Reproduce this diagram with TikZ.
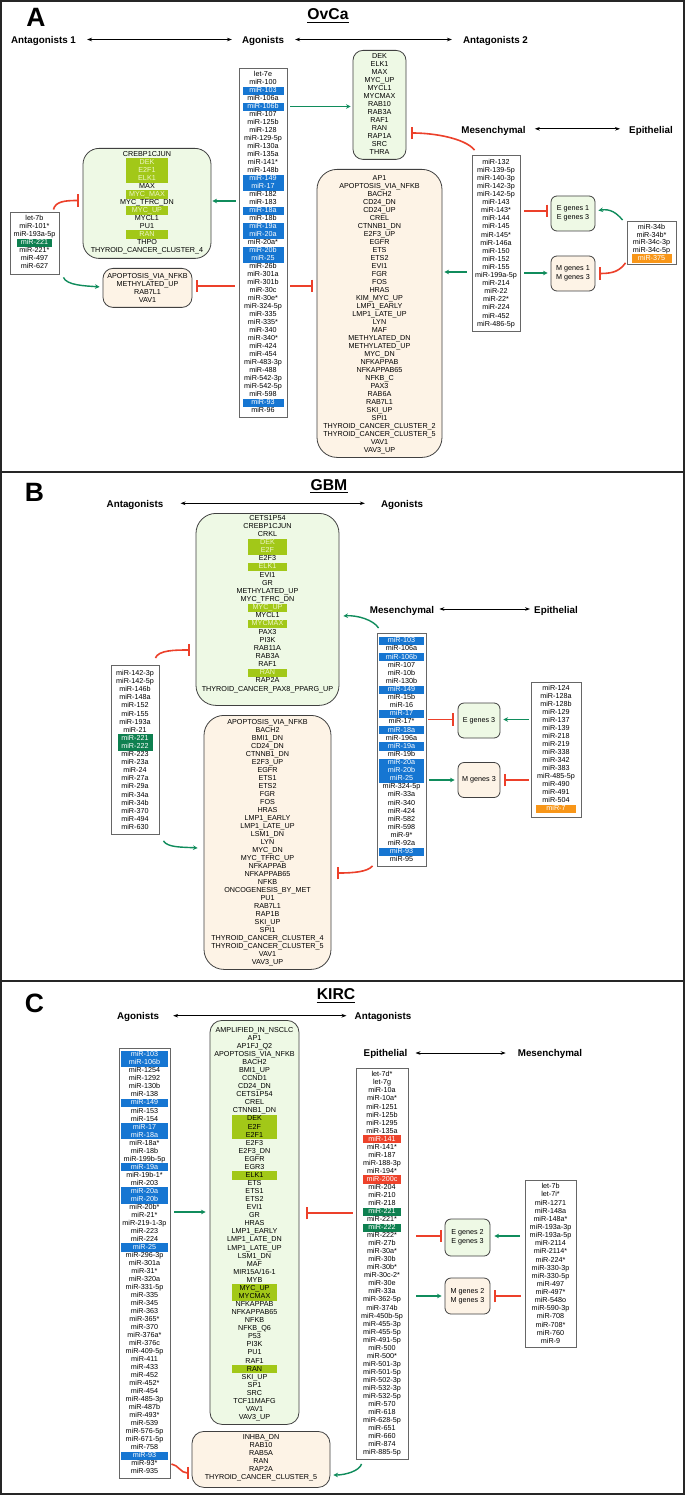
\documentclass[tikz,border=0pt]{standalone}
\usepackage{fontspec}
\setmainfont{Liberation Sans}
\usetikzlibrary{arrows.meta,calc}
\definecolor{mblue}{RGB}{22,118,210}
\definecolor{mdgreen}{RGB}{14,128,80}
\definecolor{morange}{RGB}{248,150,24}
\definecolor{mred}{RGB}{238,66,42}
\definecolor{mlime}{RGB}{162,200,24}
\definecolor{limetext}{RGB}{238,246,200}
\definecolor{gfill}{RGB}{238,249,229}
\definecolor{ofill}{RGB}{253,243,230}
\definecolor{agreen}{RGB}{16,140,92}
\definecolor{ared}{RGB}{236,64,42}
\tikzset{
 itm/.style={inner sep=0pt,outer sep=0pt,minimum height=8.3pt,text height=5.2pt,text depth=1.5pt,font=\fontsize{7.2}{8}\selectfont},
 hl/.style={hl#1},
 hln/.style={}, hlb/.style={fill=mblue,text=white}, hlg/.style={fill=mdgreen,text=white},
 hlo/.style={fill=morange,text=white}, hlr/.style={fill=mred,text=white},
 hll/.style={fill=mlime,text=limetext}, hlk/.style={fill=mlime,text=black},
 lbox/.style={draw=black!60,line width=0.9pt,fill=white,inner sep=0pt},
 gbox/.style={draw=black!75,line width=0.8pt,fill=gfill,inner sep=0pt,rounded corners=#1},
 gbox/.default=12pt,
 obox/.style={draw=black!75,line width=0.8pt,fill=ofill,inner sep=0pt,rounded corners=#1},
 obox/.default=12pt,
 egbox/.style={gbox=6pt,align=center,font=\fontsize{7.2}{8.8}\selectfont,minimum width=44pt,minimum height=35pt},
 embox/.style={obox=6pt,align=center,font=\fontsize{7.2}{8.8}\selectfont,minimum width=44pt,minimum height=35pt},
 lab/.style={font=\bfseries\fontsize{9.8}{11}\selectfont,inner sep=0pt,anchor=base},
 ttl/.style={font=\bfseries\fontsize{15.7}{18}\selectfont,inner sep=0pt,anchor=base},
 plet/.style={font=\bfseries\fontsize{26.5}{30}\selectfont,inner sep=0pt},
 garr/.style={draw=agreen,line width=1.4pt,-{Stealth[length=4.6pt,width=4.6pt]}},
 rinh/.style={draw=ared,line width=1.6pt,-{Bar[width=12.5pt]}},
 dbl/.style={line width=0.8pt,{Stealth[length=5pt,width=3.6pt]}-{Stealth[length=5pt,width=3.6pt]}},
 uline/.style={line width=1.2pt},
}
% #1 name #2 style #3 cx #4 ytop #5 height #6 width #7 yfirst #8 hl width #9 items
\newcommand\mylist[9]{%
  \node[#2, minimum width=#6, minimum height=#5, anchor=north] (#1) at (#3,#4) {};
  \foreach \sy/\tx [count=\ci] in {#9} {%
    \node[itm, minimum width=#8, hl/.expand once=\sy] (#1-\ci) at (#3, {#7+\isp*(\ci-1)}) {\tx};
  }%
}
\begin{document}
\begin{tikzpicture}[x=1pt,y=-1pt]
\useasboundingbox (0,0) rectangle (685,1495);
\fill[white] (0,0) rectangle (685,1495);
\draw[line width=1.5pt, black!85] (1,1) rectangle (684,1494);
\draw[line width=1.2pt, black!85] (1,472) -- (684,472);
\draw[line width=1.2pt, black!85] (1,981) -- (684,981);

% ================= PANEL A =================
\node[plet] (pA) at (36,17.5) {A};
\node[ttl] (tA) at (328,20) {OvCa};
\draw[uline] ($(tA.base west)+(0,2.7)$) -- ($(tA.base east)+(0,2.7)$);
\node[lab] (antA1) at (43.5,43.5) {Antagonists 1};
\node[lab] (agA) at (263,43.5) {Agonists};
\node[lab] (antA2) at (495.5,43.5) {Antagonists 2};
\draw[dbl] ($(antA1.base east)+(11,-4)$) -- ($(agA.base west)+(-10,-4)$);
\draw[dbl] ($(agA.base east)+(11,-4)$) -- ($(antA2.base west)+(-11,-4)$);
\node[lab] (mesAl) at (493.5,133.3) {Mesenchymal};
\node[lab] (epiAl) at (651,133.3) {Epithelial};
\draw[dbl] ($(mesAl.base east)+(9,-4.5)$) -- ($(epiAl.base west)+(-9,-4.5)$);

\def\isp{8}
\mylist{crebA}{gbox=16pt}{147}{148}{110}{128}{154.5}{42}{n/CREBP1CJUN, l/DEK, l/E2F1, l/ELK1, n/MAX, l/MYC\_MAX, n/MYC\_TFRC\_DN, l/MYC\_UP, n/MYCL1, n/PU1, l/RAN, n/THPO, n/THYROID\_CANCER\_CLUSTER\_4}
\mylist{let7bA}{lbox}{34.5}{212}{62}{49}{219}{35}{n/let-7b, n/miR-101*, n/miR-193a-5p, g/miR-221, n/miR-221*, n/miR-497, n/miR-627}
\mylist{apoA}{obox=10pt}{147.5}{268}{39}{89}{276.7}{0}{n/APOPTOSIS\_VIA\_NFKB, n/METHYLATED\_UP, n/RAB7L1, n/VAV1}
\mylist{agoA}{lbox}{263}{68}{349}{48}{75}{41}{n/let-7e, n/miR-100, b/miR-103, n/miR-106a, b/miR-106b, n/miR-107, n/miR-125b, n/miR-128, n/miR-129-5p, n/miR-130a, n/miR-135a, n/miR-141*, n/miR-148b, b/miR-149, b/miR-17, n/miR-182, n/miR-183, b/miR-18a, n/miR-18b, b/miR-19a, b/miR-20a, n/miR-20a*, b/miR-20b, b/miR-25, n/miR-26b, n/miR-301a, n/miR-301b, n/miR-30c, n/miR-30e*, n/miR-324-5p, n/miR-335, n/miR-335*, n/miR-340, n/miR-340*, n/miR-424, n/miR-454, n/miR-483-3p, n/miR-488, n/miR-542-3p, n/miR-542-5p, n/miR-598, b/miR-93, n/miR-96}
\mylist{dekA}{gbox=10pt}{379.5}{50}{109}{53}{56.7}{0}{n/DEK, n/ELK1, n/MAX, n/MYC\_UP, n/MYCL1, n/MYCMAX, n/RAB10, n/RAB3A, n/RAF1, n/RAN, n/RAP1A, n/SRC, n/THRA}
\mylist{ap1A}{obox=20pt}{379.5}{169}{288}{125}{178.3}{0}{n/AP1, n/APOPTOSIS\_VIA\_NFKB, n/BACH2, n/CD24\_DN, n/CD24\_UP, n/CREL, n/CTNNB1\_DN, n/E2F3\_UP, n/EGFR, n/ETS, n/ETS2, n/EVI1, n/FGR, n/FOS, n/HRAS, n/KIM\_MYC\_UP, n/LMP1\_EARLY, n/LMP1\_LATE\_UP, n/LYN, n/MAF, n/METHYLATED\_DN, n/METHYLATED\_UP, n/MYC\_DN, n/NFKAPPAB, n/NFKAPPAB65, n/NFKB\_C, n/PAX3, n/RAB6A, n/RAB7L1, n/SKI\_UP, n/SPI1, n/THYROID\_CANCER\_CLUSTER\_2, n/THYROID\_CANCER\_CLUSTER\_5, n/VAV1, n/VAV3\_UP}
\def\isp{8.1}
\mylist{mir132A}{lbox}{496}{155}{176}{48}{162.3}{0}{n/miR-132, n/miR-139-5p, n/miR-140-3p, n/miR-142-3p, n/miR-142-5p, n/miR-143, n/miR-143*, n/miR-144, n/miR-145, n/miR-145*, n/miR-146a, n/miR-150, n/miR-152, n/miR-155, n/miR-199a-5p, n/miR-214, n/miR-22, n/miR-22*, n/miR-224, n/miR-452, n/miR-486-5p}
\def\isp{7.7}
\mylist{mir34A}{lbox}{651.5}{221}{43}{49}{227.7}{40}{n/miR-34b, n/miR-34b*, n/miR-34c-3p, n/miR-34c-5p, o/miR-375}
\node[egbox] (eA) at (573,213.5) {E genes 1\\E genes 3};
\node[embox] (mA) at (573,273.5) {M genes 1\\M genes 3};

\draw[garr,shorten <=3pt,shorten >=2pt] (agoA.east |- 0,106.5) -- (dekA.west |- 0,106.5);
\draw[garr,shorten <=3pt,shorten >=1pt] (agoA.west |- 0,201) -- (crebA.east |- 0,201);
\draw[rinh,shorten <=4pt,shorten >=4pt] (agoA.west |- 0,286) -- (apoA.east |- 0,286);
\draw[rinh,shorten <=3pt,shorten >=4pt] (agoA.east |- 0,286) -- (ap1A.west |- 0,286);
\draw[rinh] ($(let7bA.north east)+(-6,-2.5)$) .. controls +(2,-8) and +(-14,0) .. ($(crebA.west |- 0,200.5)+(-4,0)$);
\draw[garr] ($(let7bA.south east)+(4,2.5)$) .. controls +(3,8) and +(-14,-1) .. ($(apoA.west)+(-3,-1)$);
\draw[rinh] ($(mir132A.north west)+(3,-5)$) .. controls +(-10,-12) and +(22,0) .. ($(dekA.east |- 0,133)+(5,0)$);
\draw[garr,shorten <=5pt,shorten >=2pt] (mir132A.west |- 0,272) -- (ap1A.east |- 0,272);
\draw[rinh,shorten <=4pt,shorten >=3pt] (mir132A.east |- 0,211) -- (eA.west |- 0,211);
\draw[garr,shorten <=4pt,shorten >=3pt] (mir132A.east |- 0,273) -- (mA.west |- 0,273);
\draw[garr] ($(mir34A.north west)+(-4,-1)$) .. controls +(-6,-7) and +(12,-2) .. ($(eA.east)+(3,-3)$);
\draw[rinh] ($(mir34A.south west)+(-1,-2)$) .. controls +(-6,8) and +(14,0) .. ($(mA.east)+(4,0)$);

% ================= PANEL B =================
\node[plet] (pB) at (34.5,492) {B};
\node[ttl] (tB) at (329,490) {GBM};
\draw[uline] ($(tB.base west)+(0,2.7)$) -- ($(tB.base east)+(0,2.7)$);
\node[lab] (antB) at (135,507.3) {Antagonists};
\node[lab] (agB) at (402,507.3) {Agonists};
\draw[dbl] ($(antB.base east)+(17,-4)$) -- ($(agB.base west)+(-16,-4)$);
\node[lab] (mesBl) at (402,613.3) {Mesenchymal};
\node[lab] (epiBl) at (556,613.3) {Epithelial};
\draw[dbl] ($(mesBl.base east)+(5,-4.3)$) -- ($(epiBl.base west)+(-4,-4.3)$);

\def\isp{8.14}
\mylist{greenB}{gbox=20pt}{267.5}{513}{192}{143}{518.3}{39}{n/CETS1P54, n/CREBP1CJUN, n/CRKL, l/DEK, l/E2F, n/E2F3, l/ELK1, n/EVI1, n/GR, n/METHYLATED\_UP, n/MYC\_TFRC\_DN, l/MYC\_UP, n/MYCL1, l/MYCMAX, n/PAX3, n/PI3K, n/RAB11A, n/RAB3A, n/RAF1, l/RAN, n/RAP2A, n/THYROID\_CANCER\_PAX8\_PPARG\_UP}
\def\isp{8}
\mylist{orangeB}{obox=20pt}{267.5}{715}{254}{127}{722.7}{0}{n/APOPTOSIS\_VIA\_NFKB, n/BACH2, n/BMI1\_DN, n/CD24\_DN, n/CTNNB1\_DN, n/E2F3\_UP, n/EGFR, n/ETS1, n/ETS2, n/FGR, n/FOS, n/HRAS, n/LMP1\_EARLY, n/LMP1\_LATE\_UP, n/LSM1\_DN, n/LYN, n/MYC\_DN, n/MYC\_TFRC\_UP, n/NFKAPPAB, n/NFKAPPAB65, n/NFKB, n/ONCOGENESIS\_BY\_MET, n/PU1, n/RAB7L1, n/RAP1B, n/SKI\_UP, n/SPI1, n/THYROID\_CANCER\_CLUSTER\_4, n/THYROID\_CANCER\_CLUSTER\_5, n/VAV1, n/VAV3\_UP}
\def\isp{8.1}
\mylist{mir142B}{lbox}{135}{665}{169}{48}{673.7}{35}{n/miR-142-3p, n/miR-142-5p, n/miR-146b, n/miR-148a, n/miR-152, n/miR-155, n/miR-193a, n/miR-21, g/miR-221, g/miR-222, n/miR-223, n/miR-23a, n/miR-24, n/miR-27a, n/miR-29a, n/miR-34a, n/miR-34b, n/miR-370, n/miR-494, n/miR-630}
\def\isp{8.11}
\mylist{mesB}{lbox}{401.5}{633}{233}{49}{641}{45}{b/miR-103, n/miR-106a, b/miR-106b, n/miR-107, n/miR-10b, n/miR-130b, b/miR-149, n/miR-15b, n/miR-16, b/miR-17, n/miR-17*, b/miR-18a, n/miR-196a, b/miR-19a, n/miR-19b, b/miR-20a, b/miR-20b, b/miR-25, n/miR-324-5p, n/miR-33a, n/miR-340, n/miR-424, n/miR-582, n/miR-598, n/miR-9*, n/miR-92a, b/miR-93, n/miR-95}
\def\isp{8}
\mylist{epiB}{lbox}{556}{682}{135}{50}{689}{40}{n/miR-124, n/miR-128a, n/miR-128b, n/miR-129, n/miR-137, n/miR-139, n/miR-218, n/miR-219, n/miR-338, n/miR-342, n/miR-383, n/miR-485-5p, n/miR-490, n/miR-491, n/miR-504, o/miR-7}
\node[egbox, minimum width=42pt] (eB) at (479,720.5) {E genes 3};
\node[embox, minimum width=42pt] (mB) at (479,780) {M genes 3};

\draw[rinh] ($(mir142B.north east)+(-4,-7)$) .. controls +(3,-8) and +(-14,0) .. ($(greenB.west |- 0,650)+(-6,0)$);
\draw[garr] ($(mir142B.south east)+(4,6)$) .. controls +(4,7) and +(-14,-1) .. ($(orangeB.west |- 0,848)+(-6,0)$);
\draw[garr] ($(mesB.north west)+(2,-5)$) .. controls +(-5,-8) and +(14,-1) .. ($(greenB.east |- 0,616)+(4,0)$);
\draw[rinh] ($(mesB.south west)+(-4,-1)$) .. controls +(-5,6) and +(16,0) .. ($(orangeB.east |- 0,873)+(6,0)$);
\draw[rinh,shorten <=2pt,shorten >=4pt] (mesB.east |- 0,719.5) -- (eB.west |- 0,719.5);
\draw[garr,shorten <=3pt,shorten >=3pt] (mesB.east |- 0,780) -- (mB.west |- 0,780);
\draw[garr,shorten <=2pt,shorten >=3pt] (epiB.west |- 0,719.5) -- (eB.east |- 0,719.5);
\draw[rinh,shorten <=2pt,shorten >=4pt] (epiB.west |- 0,780) -- (mB.east |- 0,780);

% ================= PANEL C =================
\node[plet] (pC) at (34.5,1003) {C};
\node[ttl] (tC) at (336,999.5) {KIRC};
\draw[uline] ($(tC.base west)+(0,2.7)$) -- ($(tC.base east)+(0,2.7)$);
\node[lab] (agC) at (138,1019.3) {Agonists};
\node[lab] (antC) at (383,1019.3) {Antagonists};
\draw[dbl] ($(agC.base east)+(14,-3.6)$) -- ($(antC.base west)+(-8,-3.6)$);
\node[lab] (epiCl) at (385.5,1056.6) {Epithelial};
\node[lab] (mesCl) at (550,1056.6) {Mesenchymal};
\draw[dbl] ($(epiCl.base east)+(8,-3.6)$) -- ($(mesCl.base west)+(-12,-3.6)$);

\def\isp{8.02}
\mylist{agoC}{lbox}{144.5}{1048}{430}{51}{1055}{47}{b/miR-103, b/miR-106b, n/miR-1254, n/miR-1292, n/miR-130b, n/miR-138, b/miR-149, n/miR-153, n/miR-154, b/miR-17, b/miR-18a, n/miR-18a*, n/miR-18b, n/miR-199b-5p, b/miR-19a, n/miR-19b-1*, n/miR-203, b/miR-20a, b/miR-20b, n/miR-20b*, n/miR-21*, n/miR-219-1-3p, n/miR-223, n/miR-224, b/miR-25, n/miR-296-3p, n/miR-301a, n/miR-31*, n/miR-320a, n/miR-331-5p, n/miR-335, n/miR-345, n/miR-363, n/miR-365*, n/miR-370, n/miR-376a*, n/miR-376c, n/miR-409-5p, n/miR-411, n/miR-433, n/miR-452, n/miR-452*, n/miR-454, n/miR-485-3p, n/miR-487b, n/miR-493*, n/miR-539, n/miR-576-5p, n/miR-671-5p, n/miR-758, b/miR-93, n/miR-93*, n/miR-935}
\def\isp{8.07}
\mylist{greenC}{gbox=12pt}{254.5}{1020}{404}{89}{1030.3}{45}{n/AMPLIFIED\_IN\_NSCLC, n/AP1, n/AP1FJ\_Q2, n/APOPTOSIS\_VIA\_NFKB, n/BACH2, n/BMI1\_UP, n/CCND1, n/CD24\_DN, n/CETS1P54, n/CREL, n/CTNNB1\_DN, k/DEK, k/E2F, k/E2F1, n/E2F3, n/E2F3\_DN, n/EGFR, n/EGR3, k/ELK1, n/ETS, n/ETS1, n/ETS2, n/EVI1, n/GR, n/HRAS, n/LMP1\_EARLY, n/LMP1\_LATE\_DN, n/LMP1\_LATE\_UP, n/LSM1\_DN, n/MAF, n/{MIR15A/16-1}, n/MYB, k/MYC\_UP, k/MYCMAX, n/NFKAPPAB, n/NFKAPPAB65, n/NFKB, n/NFKB\_Q6, n/P53, n/PI3K, n/PU1, n/RAF1, k/RAN, n/SKI\_UP, n/SP1, n/SRC, n/TCF11MAFG, n/VAV1, n/VAV3\_UP}
\def\isp{8}
\mylist{inhbaC}{obox=12pt}{261}{1431}{56}{138}{1438}{0}{n/INHBA\_DN, n/RAB10, n/RAB5A, n/RAN, n/RAP2A, n/THYROID\_CANCER\_CLUSTER\_5}
\def\isp{8.04}
\mylist{epiC}{lbox}{382}{1068}{391}{52}{1075}{38}{n/let-7d*, n/let-7g, n/miR-10a, n/miR-10a*, n/miR-1251, n/miR-125b, n/miR-1295, n/miR-135a, r/miR-141, n/miR-141*, n/miR-187, n/miR-188-3p, n/miR-194*, r/miR-200c, n/miR-204, n/miR-210, n/miR-218, g/miR-221, n/miR-221*, g/miR-222, n/miR-222*, n/miR-27b, n/miR-30a*, n/miR-30b, n/miR-30b*, n/miR-30c-2*, n/miR-30e, n/miR-33a, n/miR-362-5p, n/miR-374b, n/miR-450b-5p, n/miR-455-3p, n/miR-455-5p, n/miR-491-5p, n/miR-500, n/miR-500*, n/miR-501-3p, n/miR-501-5p, n/miR-502-3p, n/miR-532-3p, n/miR-532-5p, n/miR-570, n/miR-618, n/miR-628-5p, n/miR-651, n/miR-660, n/miR-874, n/miR-885-5p}
\def\isp{8.13}
\mylist{mesC}{lbox}{550.5}{1180}{167}{51}{1187}{0}{n/let-7b, n/let-7i*, n/miR-1271, n/miR-148a, n/miR-148a*, n/miR-193a-3p, n/miR-193a-5p, n/miR-2114, n/miR-2114*, n/miR-224*, n/miR-330-3p, n/miR-330-5p, n/miR-497, n/miR-497*, n/miR-548o, n/miR-590-3p, n/miR-708, n/miR-708*, n/miR-760, n/miR-9}
\node[egbox, minimum width=45pt, minimum height=37pt] (eC) at (467.5,1237.5) {E genes 2\\E genes 3};
\node[embox, minimum width=45pt, minimum height=36pt] (mC) at (467.5,1296) {M genes 2\\M genes 3};

\draw[garr,shorten <=4pt,shorten >=4pt] (agoC.east |- 0,1212) -- (greenC.west |- 0,1212);
\draw[rinh,shorten <=3pt,shorten >=7pt] (epiC.west |- 0,1213) -- (greenC.east |- 0,1213);
\draw[rinh] ($(agoC.east |- 0,1464)+(1,0)$) .. controls +(7,1) and +(-8,0) .. ($(inhbaC.west |- 0,1473)+(-3,0)$);
\draw[garr] ($(epiC.south west)+(6,4)$) .. controls +(-2,7) and +(12,0) .. ($(inhbaC.east |- 0,1475)+(3,0)$);
\draw[rinh,shorten <=8pt,shorten >=3pt] (epiC.east |- 0,1236) -- (eC.west |- 0,1236);
\draw[garr,shorten <=8pt,shorten >=3pt] (epiC.east |- 0,1296) -- (mC.west |- 0,1296);
\draw[garr,shorten <=5pt,shorten >=4pt] (mesC.west |- 0,1236) -- (eC.east |- 0,1236);
\draw[rinh,shorten <=4pt,shorten >=4pt] (mesC.west |- 0,1296) -- (mC.east |- 0,1296);
\end{tikzpicture}
\end{document}
